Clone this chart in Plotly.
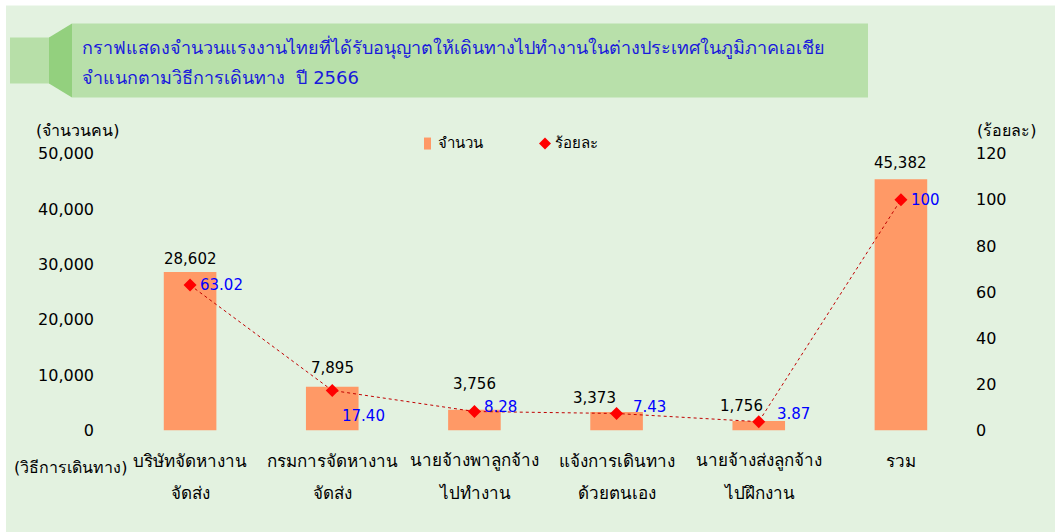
import plotly.graph_objects as go

categories = ["บริษัทจัดหางาน<br>จัดส่ง", "กรมการจัดหางาน<br>จัดส่ง", "นายจ้างพาลูกจ้าง<br>ไปทำงาน",
              "แจ้งการเดินทาง<br>ด้วยตนเอง", "นายจ้างส่งลูกจ้าง<br>ไปฝึกงาน", "รวม"]
counts = [28602, 7895, 3756, 3373, 1756, 45382]
percents = [63.02, 17.40, 8.28, 7.43, 3.87, 100]
percent_labels = ["63.02", "17.40", "8.28", "7.43", "3.87", "100"]
left_ticks = [0, 10000, 20000, 30000, 40000, 50000]
right_ticks = [0, 20, 40, 60, 80, 100, 120]

W, H = 1055, 532
FONT = "Tahoma, 'DejaVu Sans', 'Noto Sans', sans-serif"
BAR = "#ff9966"
BG = "#e3f2e0"

# the captured page is squashed vertically: y_seen = 8.5 + 0.964 * y_drawn
def px(x):
    return x / W

def py(y):
    yd = (y - 8.5) / 0.964
    return 1 - yd / H

x_idx = list(range(len(categories)))

fig = go.Figure()
fig.add_trace(go.Bar(x=x_idx, y=counts, marker=dict(color=BAR, line=dict(width=0)),
                     width=0.37, yaxis="y", showlegend=False, hoverinfo="skip"))
fig.add_trace(go.Scatter(x=x_idx, y=percents, yaxis="y2", mode="lines+markers",
                         line=dict(color="#c00000", width=1, dash="dot"),
                         marker=dict(symbol="diamond", color="#ff0000", size=10),
                         showlegend=False, hoverinfo="skip"))

def ann(x, y, text, size, color="#000000", xanchor="center", xref="paper", yref="paper",
        xshift=0, yshift=0):
    return dict(x=x, y=y, xref=xref, yref=yref, text=text, showarrow=False,
                xanchor=xanchor, yanchor="middle", xshift=xshift, yshift=yshift,
                font=dict(size=size, color=color, family=FONT))

annotations = []
# bar value labels
count_offs = [(0, 13), (0, 19), (0, 26), (-22, 14), (-17, 15), (0, 16)]
for i, v in enumerate(counts):
    dx, dy = count_offs[i]
    annotations.append(ann(i, v, f"{v:,}", 15, xref="x", yref="y", xshift=dx, yshift=dy))
# percent labels
offs = [(8, 0), (8, -26), (8, 5), (14, 6), (16, 8), (8, 0)]
for i, (p, t) in enumerate(zip(percents, percent_labels)):
    dx, dy = offs[i]
    annotations.append(ann(i, p, t, 15, color="#0000ff", xanchor="left", xref="x", yref="y2",
                           xshift=dx, yshift=dy))
# category labels
for i, c in enumerate(categories):
    for j, ln in enumerate(c.split("<br>")):
        annotations.append(ann(i, py(460 + 32 * j), ln, 17, xref="x"))
annotations += [
    ann(px(77), py(130), "(จำนวนคน)", 16),
    ann(px(1006), py(130), "(ร้อยละ)", 16),
    ann(px(12), py(467), "(วิธีการเดินทาง)", 16, xanchor="left"),
    ann(px(80), py(46), "กราฟแสดงจำนวนแรงงานไทยที่ได้รับอนุญาตให้เดินทางไปทำงานในต่างประเทศในภูมิภาคเอเชีย",
        18, color="#1a1adb", xanchor="left"),
    ann(px(80), py(77), "จำแนกตามวิธีการเดินทาง  ปี 2566", 18, color="#1a1adb", xanchor="left"),
    ann(px(436), py(142), "จำนวน", 15, xanchor="left"),
    ann(px(553), py(142), "ร้อยละ", 15, xanchor="left"),
]

shapes = [
    dict(type="rect", xref="paper", yref="paper", x0=0, x1=1, y0=py(5), y1=1.2,
         fillcolor="#ffffff", line=dict(width=0), layer="below"),
    dict(type="rect", xref="paper", yref="paper", x0=0, x1=px(6), y0=-0.2, y1=1.2,
         fillcolor="#ffffff", line=dict(width=0), layer="below"),
    dict(type="rect", xref="paper", yref="paper", x0=px(10), x1=px(50), y0=py(83), y1=py(37),
         fillcolor="#b7dfa8", line=dict(width=0), layer="below"),
    dict(type="path", xref="paper", yref="paper",
         path=f"M {px(49)} {py(37)} L {px(72)} {py(23)} L {px(72)} {py(97)} L {px(49)} {py(83)} Z",
         fillcolor="#93d07e", line=dict(width=0), layer="below"),
    dict(type="rect", xref="paper", yref="paper", x0=px(72), x1=px(868), y0=py(97), y1=py(23),
         fillcolor="#b8e0aa", line=dict(width=0), layer="below"),
    dict(type="rect", xref="paper", yref="paper", x0=px(424), x1=px(431), y0=py(149), y1=py(137),
         fillcolor=BAR, line=dict(width=0)),
    dict(type="path", xref="paper", yref="paper",
         path=f"M {px(545)} {py(137)} L {px(551)} {py(143)} L {px(545)} {py(149)} L {px(539)} {py(143)} Z",
         fillcolor="#ff0000", line=dict(width=0)),
]

fig.update_layout(
    width=W, height=H, autosize=False,
    margin=dict(l=0, r=0, t=0, b=0, pad=0),
    paper_bgcolor=BG, plot_bgcolor="rgba(0,0,0,0)",
    font=dict(family=FONT, size=16, color="#000"),
    xaxis=dict(domain=[px(119), px(972)], range=[-0.5, 5.5], showticklabels=False,
               showgrid=False, zeroline=False, showline=False, ticks=""),
    yaxis=dict(domain=[py(430), py(153)], range=[0, 50000], tickvals=left_ticks,
               ticktext=[f"{v:,}" for v in left_ticks], showgrid=False, zeroline=False,
               showline=False, ticks="", ticklabelstandoff=24, tickfont=dict(size=16)),
    yaxis2=dict(domain=[py(430), py(153)], range=[0, 120], overlaying="y", side="right",
                tickvals=right_ticks, showgrid=False, zeroline=False, showline=False,
                ticks="", ticklabelstandoff=3, tickfont=dict(size=16)),
    annotations=annotations, shapes=shapes, showlegend=False,
)
fig.write_html("out.html", config={"responsive": False, "displayModeBar": False},
               post_script="document.body.style.margin='0';document.body.style.overflow='hidden';"
                           "document.body.style.background='" + BG + "';"
                           "document.documentElement.style.background='" + BG + "';")
